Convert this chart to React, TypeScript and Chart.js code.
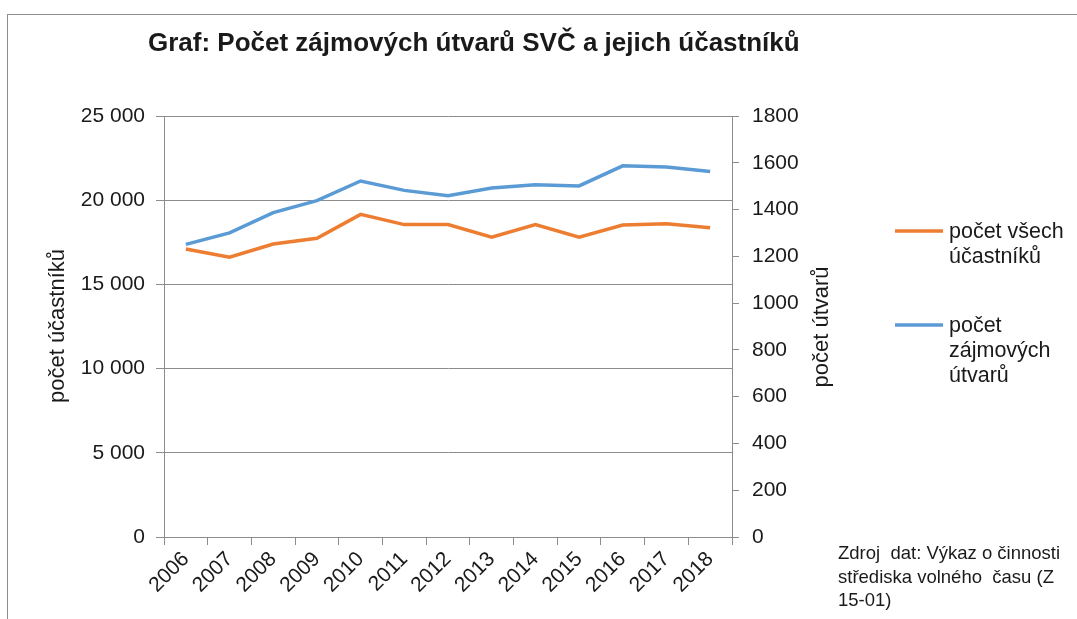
import React, { useEffect, useRef } from "react";
import { Chart, registerables } from "chart.js";

Chart.register(...registerables);

const years = ["2006", "2007", "2008", "2009", "2010", "2011", "2012", "2013", "2014", "2015", "2016", "2017", "2018"];
const participants = [17100, 16610, 17400, 17740, 19160, 18550, 18550, 17800, 18550, 17800, 18530, 18600, 18370];
const units = [1251, 1300, 1387, 1438, 1522, 1482, 1459, 1492, 1506, 1501, 1587, 1582, 1563];

const TITLE = "Graf: Počet zájmových útvarů SVČ a jejich účastníků";
const LEFT_TITLE = "počet účastníků";
const RIGHT_TITLE = "počet útvarů";
const LEGEND_PARTICIPANTS = ["počet všech", "účastníků"];
const LEGEND_UNITS = ["počet", "zájmových", "útvarů"];
const SOURCE_LINES = ["Zdroj  dat: Výkaz o činnosti", "střediska volného  času (Z", "15-01)"];

const ORANGE = "#ED7D31";
const BLUE = "#5B9BD5";
const GRID = "#8c8c8c";
const TEXT = "#1a1a1a";
const FONT = '"Liberation Sans", Arial, sans-serif';

const decor = {
  id: "decor",
  afterDraw(chart: any) {
    const ctx = chart.ctx;
    ctx.save();
    ctx.fillStyle = TEXT;
    ctx.textAlign = "left";
    ctx.textBaseline = "alphabetic";
    ctx.font = `bold 26px ${FONT}`;
    ctx.fillText(TITLE, 148, 51);

    // axis titles
    ctx.font = `22px ${FONT}`;
    ctx.textAlign = "center";
    ctx.textBaseline = "middle";
    ctx.save();
    ctx.translate(58, 326);
    ctx.rotate(-Math.PI / 2);
    ctx.fillText(LEFT_TITLE, 0, 0);
    ctx.restore();
    ctx.save();
    ctx.translate(822, 327);
    ctx.rotate(-Math.PI / 2);
    ctx.fillText(RIGHT_TITLE, 0, 0);
    ctx.restore();

    // legend
    ctx.font = `21.5px ${FONT}`;
    ctx.textAlign = "left";
    ctx.textBaseline = "alphabetic";
    ctx.lineWidth = 3.5;
    ctx.strokeStyle = ORANGE;
    ctx.beginPath();
    ctx.moveTo(895, 231);
    ctx.lineTo(943, 231);
    ctx.stroke();
    LEGEND_PARTICIPANTS.forEach((t, i) => ctx.fillText(t, 949, 238 + i * 25));
    ctx.strokeStyle = BLUE;
    ctx.beginPath();
    ctx.moveTo(895, 325);
    ctx.lineTo(943, 325);
    ctx.stroke();
    LEGEND_UNITS.forEach((t, i) => ctx.fillText(t, 949, 332 + i * 25));

    // source
    ctx.font = `18.5px ${FONT}`;
    SOURCE_LINES.forEach((t, i) => ctx.fillText(t, 838, 559 + i * 23.5));
    ctx.restore();
  },
};

export default function App() {
  const ref = useRef<HTMLCanvasElement>(null);
  useEffect(() => {
    if (!ref.current) return;
    const chart = new Chart(ref.current, {
      type: "line",
      data: {
        labels: years,
        datasets: [
          {
            label: "počet všech účastníků",
            data: participants,
            borderColor: ORANGE,
            backgroundColor: ORANGE,
            borderWidth: 3.5,
            pointRadius: 0,
            tension: 0,
            yAxisID: "y",
          },
          {
            label: "počet zájmových útvarů",
            data: units,
            borderColor: BLUE,
            backgroundColor: BLUE,
            borderWidth: 3.5,
            pointRadius: 0,
            tension: 0,
            yAxisID: "y1",
          },
        ],
      },
      options: {
        responsive: false,
        animation: false,
        layout: { padding: { top: 116, left: 0, right: 0, bottom: 0 } },
        plugins: {
          legend: { display: false },
          title: { display: false },
          tooltip: { enabled: false },
        },
        scales: {
          x: {
            offset: true,
            grid: { offset: true, drawOnChartArea: false, drawTicks: true, tickLength: 8, color: GRID },
            border: { display: true, color: GRID },
            ticks: {
              autoSkip: false,
              minRotation: 45,
              maxRotation: 45,
              padding: 2,
              color: TEXT,
              font: { family: FONT, size: 21 },
            },
            afterFit: (s: any) => {
              s.height = 82;
            },
          },
          y: {
            position: "left",
            min: 0,
            max: 25000,
            grid: { color: GRID, tickLength: 8, drawTicks: true },
            border: { display: true, color: GRID },
            ticks: {
              stepSize: 5000,
              padding: 11,
              color: TEXT,
              font: { family: FONT, size: 21 },
              callback: (v: any) => String(v).replace(/\B(?=(\d{3})+(?!\d))/g, " "),
            },
            afterFit: (s: any) => {
              s.width = 164;
            },
          },
          y1: {
            position: "right",
            min: 0,
            max: 1800,
            grid: { drawOnChartArea: false, color: GRID, tickLength: 7, drawTicks: true },
            border: { display: true, color: GRID },
            ticks: {
              stepSize: 200,
              padding: 13,
              color: TEXT,
              font: { family: FONT, size: 21 },
              callback: (v: any) => String(v),
            },
            afterFit: (s: any) => {
              s.width = 345;
            },
          },
        },
      },
      plugins: [decor],
    });
    return () => chart.destroy();
  }, []);

  return (
    <div style={{ position: "fixed", left: 0, top: 0, width: 1077, height: 619, background: "#fff", overflow: "hidden" }}>
      <div
        style={{
          position: "absolute",
          left: 7,
          top: 14,
          width: 1200,
          height: 700,
          borderLeft: "1px solid #8c8c8c",
          borderTop: "1px solid #8c8c8c",
        }}
      />
      <canvas ref={ref} width={1077} height={619} style={{ position: "absolute", left: 0, top: 0, display: "block" }} />
    </div>
  );
}
